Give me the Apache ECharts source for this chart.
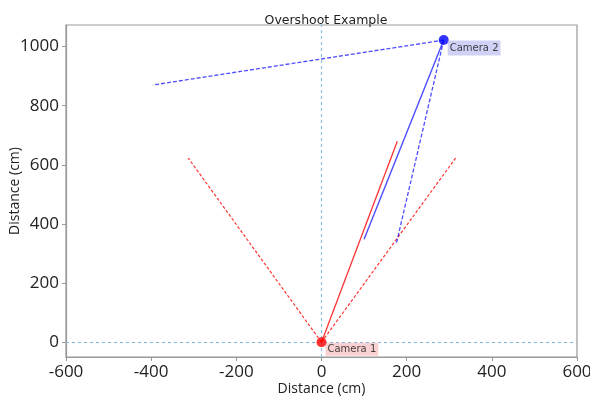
<!DOCTYPE html>
<html>
<head>
<meta charset="utf-8">
<script src="https://cdn.jsdelivr.net/npm/echarts@6/dist/echarts.min.js"></script>
<style>
  html, body { margin: 0; padding: 0; background: #fff; }
  #chart { width: 590px; height: 397px; }
</style>
</head>
<body>
<div id="chart"></div>
<script>
// camera positions
const camera1 = [0, 0];
const camera2 = [287, 1022];

// segment end points (start at the camera)
const cam1Solid = [178, 680];
const cam1DashLeft = [-313, 623];
const cam1DashRight = [315, 623];
const cam2Solid = [100, 348];
const cam2DashLeft = [-396, 870];
const cam2DashRight = [176, 335];

const xTicks = [-600, -400, -200, 0, 200, 400, 600];
const yTicks = [0, 200, 400, 600, 800, 1000];

const red = 'rgba(255,0,0,0.8)';
const blue = 'rgba(0,0,255,0.7)';
const refColor = '#7fb6dc';

function seg(from, to, color, type, width) {
    return {
        type: 'line',
        data: [from, to],
        showSymbol: false,
        silent: true,
        lineStyle: { color: color, width: width || 1.2, type: type || 'solid' },
        z: 3
    };
}

var chart = echarts.init(document.getElementById('chart'));
chart.setOption({
    animation: false,
    title: {
        text: 'Overshoot Example',
        left: 321, top: 9,
        textAlign: 'center',
        textStyle: { fontFamily: 'DejaVu Sans', fontSize: 12.5, fontWeight: 'normal', color: '#222' }
    },
    grid: { left: 66, right: 13, top: 25, bottom: 40, outerBoundsMode: 'none' },
    xAxis: {
        type: 'value',
        min: -600, max: 600, interval: 200,
        name: 'Distance (cm)',
        nameLocation: 'middle',
        nameGap: 25,
        nameMoveOverlap: false,
        nameTextStyle: { fontFamily: 'Open Sans', fontSize: 14, color: '#222' },
        axisLine: { show: true, onZero: false, lineStyle: { color: '#999', width: 1.2 } },
        axisTick: { show: true, length: 4, lineStyle: { color: '#999' } },
        axisLabel: { fontFamily: 'Open Sans', fontSize: 17, color: '#222', margin: 7, formatter: v => String(v) },
        splitLine: { show: false }
    },
    yAxis: {
        type: 'value',
        min: -50, max: 1073,
        name: 'Distance (cm)',
        nameLocation: 'middle',
        nameGap: 44,
        nameMoveOverlap: false,
        nameTextStyle: { fontFamily: 'Open Sans', fontSize: 14, color: '#222' },
        axisLine: { show: true, onZero: false, lineStyle: { color: '#999', width: 1.2 } },
        axisTick: { show: true, length: 4, customValues: yTicks, lineStyle: { color: '#999' } },
        axisLabel: { fontFamily: 'Open Sans', fontSize: 17, color: '#222', margin: 7, customValues: yTicks, formatter: v => String(v) },
        splitLine: { show: false }
    },
    graphic: [{
        type: 'rect',
        shape: { x: 66, y: 25, width: 511, height: 332 },
        style: { fill: 'none', stroke: '#999', lineWidth: 1.2 },
        silent: true
    }],
    series: [
        Object.assign(seg(camera1, cam1Solid, red, 'solid', 1.3), {
            // reference lines through the origin
            markLine: {
                silent: true,
                symbol: 'none',
                label: { show: false },
                lineStyle: { color: refColor, width: 1, type: [3, 3] },
                data: [
                    { xAxis: 0, lineStyle: { color: '#8cc2e8', width: 1.2, type: [3, 3] } },
                    { yAxis: 0 }
                ]
            }
        }),
        seg(camera1, cam1DashLeft, red, [3, 2], 1.2),
        seg(camera1, cam1DashRight, red, [3, 2], 1.2),
        seg(camera2, cam2Solid, blue, 'solid', 1.4),
        seg(camera2, cam2DashLeft, blue, [4, 2], 1.3),
        seg(camera2, cam2DashRight, blue, [4, 2], 1.3),
        {
            type: 'scatter',
            data: [camera1],
            symbolSize: 10,
            itemStyle: { color: '#ff0000' },
            z: 5,
            label: {
                show: true, formatter: 'Camera 1', position: 'right',
                distance: 0, offset: [-1, 7],
                fontFamily: 'DejaVu Sans', fontSize: 10, color: '#111',
                backgroundColor: 'rgba(240,128,128,0.45)',
                padding: [2, 2, 1, 2]
            }
        },
        {
            type: 'scatter',
            data: [camera2],
            symbolSize: 10,
            itemStyle: { color: '#0000ff' },
            z: 5,
            label: {
                show: true, formatter: 'Camera 2', position: 'right',
                distance: 0, offset: [-1, 8],
                fontFamily: 'DejaVu Sans', fontSize: 10, color: '#111',
                backgroundColor: 'rgba(140,140,230,0.5)',
                padding: [3, 2, 2, 2]
            }
        }
    ]
});
</script>
</body>
</html>
